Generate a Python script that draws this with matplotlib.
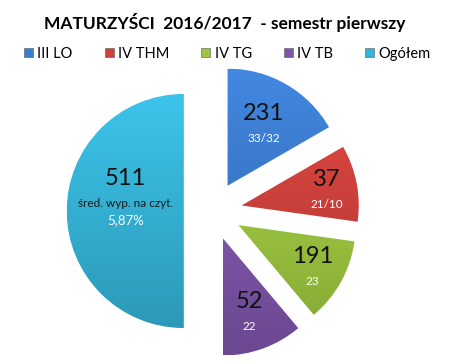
import numpy as np
import matplotlib
matplotlib.use("Agg")
import matplotlib.pyplot as plt
from matplotlib.patches import Patch
from matplotlib.colors import to_rgb

# dane
groups = ["III LO", "IV THM", "IV TG", "IV TB", "Ogółem"]
slice_sizes = [60, 38, 42, 40, 180]          # udział kątowy wycinków (z rysunku)
main_labels = ["231", "37", "191", "52", "511"]
sub_labels = ["33/32", "21/10", "23", "22", "5,87%"]
colors = ["#3a7bd0", "#d0403a", "#9cc63e", "#7e55aa", "#34b4d8"]

plt.rcParams["font.family"] = ["Lato", "DejaVu Sans"]

fig = plt.figure(figsize=(4.5, 3.64), dpi=100)
ax = fig.add_axes([0, 0, 1, 1])

wedges, _ = ax.pie(slice_sizes, colors=colors, startangle=90, counterclock=False,
                   explode=[0.25] * 5, radius=1.0,
                   wedgeprops=dict(linewidth=0.6, edgecolor="#ffffff"))

# lekki gradient (jasniej u gory, ciemniej u dolu) jak w Excelu
for w, c in zip(wedges, colors):
    base = np.array(to_rgb(c))
    light = np.clip(base * 1.06 + 0.02, 0, 1)
    dark = base * 0.85
    t = np.linspace(0, 1, 128)[:, None, None]
    grad = light * (1 - t) + dark * t
    grad = np.repeat(grad, 2, axis=1)
    cx, cy = w.center
    im = ax.imshow(grad, extent=(cx - 1, cx + 1, cy - 1, cy + 1), origin="upper",
                   interpolation="bilinear", zorder=w.get_zorder() + 0.1)
    im.set_clip_path(w)

# pie() ustawia wlasne granice, wiec ustawiamy je po nim
ax.set_xlim(-213 / 117, (450 - 213) / 117)
ax.set_ylim(-(364 - 211) / 117, 211 / 117)
ax.set_aspect("auto")
ax.axis("off")

# etykiety w srodku wycinkow
label_r = [0.62, 0.74, 0.72, 0.66, 0.50]
for w, big, small, r in zip(wedges, main_labels, sub_labels, label_r):
    mid = np.deg2rad((w.theta1 + w.theta2) / 2)
    cx, cy = w.center
    x = cx + r * np.cos(mid)
    y = cy + r * np.sin(mid)
    if big == "511":
        ax.text(x, y + 0.28, big, ha="center", va="center", fontsize=17,
                color="#111111", zorder=5)
        ax.text(x, y + 0.06, "śred. wyp. na czyt.", ha="center", va="center",
                fontsize=8.5, color="#1a1a1a", zorder=5)
        ax.text(x, y - 0.08, small, ha="center", va="center", fontsize=9.5,
                color="white", zorder=5)
    else:
        ax.text(x, y + 0.08, big, ha="center", va="center", fontsize=17,
                color="#111111", zorder=5)
        ax.text(x, y - 0.13, small, ha="center", va="center", fontsize=8.5,
                color="white", zorder=5)

fig.text(0.5, 1 - 22 / 364, "MATURZYŚCI  2016/2017  - semestr pierwszy",
         ha="center", va="center", fontsize=12.5, fontweight="bold")

handles = [Patch(facecolor=c, edgecolor="#555555", linewidth=0.4) for c in colors]
fig.legend(handles, groups, loc="center", bbox_to_anchor=(0.505, 1 - 54 / 364), ncol=5,
           frameon=False, fontsize=10.5, handlelength=0.6, handleheight=0.6,
           handletextpad=0.3, columnspacing=2.2)

fig.savefig("out.png", dpi=100)
